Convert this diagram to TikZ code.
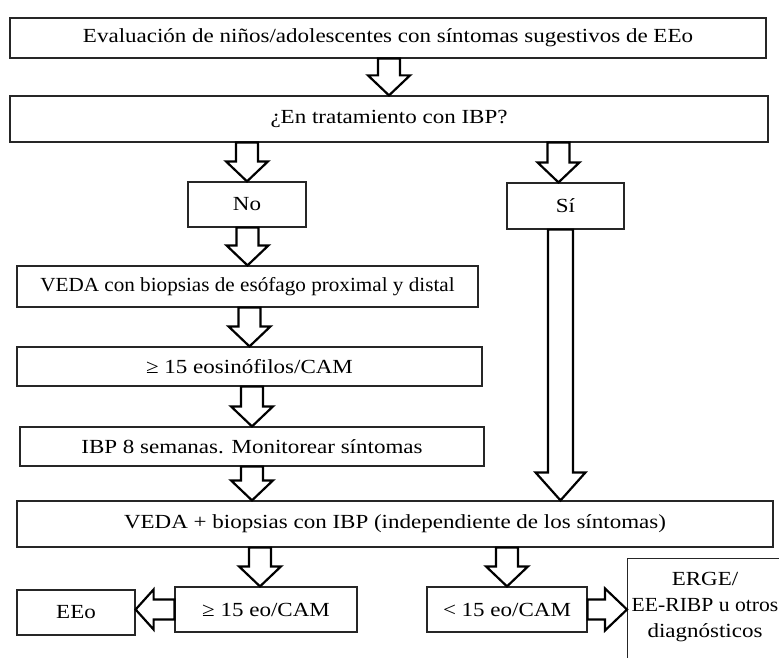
\documentclass[tikz,border=0pt]{standalone}
\usepackage{fontspec}
\setmainfont{Liberation Serif}[FakeStretch=1.15]
\usetikzlibrary{calc}

\newcommand{\downarr}[5]{%
  \draw[blockarr] let \p1=(#1), \p2=(#2) in
    (\x2-#3pt,\y1) -- (\x2-#3pt,\y2+#5pt) -- (\x2-#4pt,\y2+#5pt) -- (\x2,\y2)
    -- (\x2+#4pt,\y2+#5pt) -- (\x2+#3pt,\y2+#5pt) -- (\x2+#3pt,\y1) -- cycle;}
\newcommand{\leftarr}[5]{%
  \draw[blockarr] let \p1=(#1), \p2=(#2) in
    (\x1,\y1+#3pt) -- (\x2+#5pt,\y1+#3pt) -- (\x2+#5pt,\y1+#4pt) -- (\x2,\y1)
    -- (\x2+#5pt,\y1-#4pt) -- (\x2+#5pt,\y1-#3pt) -- (\x1,\y1-#3pt) -- cycle;}
\newcommand{\rightarr}[5]{%
  \draw[blockarr] let \p1=(#1), \p2=(#2) in
    (\x1,\y1+#3pt) -- (\x2-#5pt,\y1+#3pt) -- (\x2-#5pt,\y1+#4pt) -- (\x2,\y1)
    -- (\x2-#5pt,\y1-#4pt) -- (\x2-#5pt,\y1-#3pt) -- (\x1,\y1-#3pt) -- cycle;}

\begin{document}
\begin{tikzpicture}[x=1pt,y=-1pt,
    box/.style={draw=black!85,line width=1.2pt,fill=white,inner sep=0pt},
    blockarr/.style={draw=black,line width=2.2pt,fill=white,line join=miter},
    every node/.style={font=\fontsize{20}{26}\selectfont}]
    \useasboundingbox (0,0) rectangle (779,658);
    \clip (0,0) rectangle (779,658);
    \node[box,minimum width=756,minimum height=40] (b1) at (388,38) {Evaluación de niños/adolescentes con síntomas sugestivos de EEo};
    \node[box,minimum width=758,minimum height=46] (b2) at (389,119) {¿En tratamiento con IBP?};
    \node[box,minimum width=118,minimum height=45] (no) at (247,204.5) {No};
    \node[box,minimum width=117,minimum height=46] (si) at (565.5,206) {Sí};
    \node[box,minimum width=461,minimum height=41] (veda1) at (247.5,286.5) {\scalebox{0.92}[1]{VEDA con biopsias de esófago proximal y distal}};
    \node[box,minimum width=465,minimum height=39] (eos) at (249.5,366.5) {≥ 15 eosinófilos/CAM};
    \node[box,minimum width=464,minimum height=39] (ibp8) at (252,446.5) {IBP 8 semanas. Monitorear síntomas};
    \node[box,minimum width=756,minimum height=46] (veda2) at (395,524) {VEDA + biopsias con IBP (independiente de los síntomas)};
    \node[box,minimum width=182,minimum height=45] (eo15) at (266,609.5) {≥ 15 eo/CAM};
    \node[box,minimum width=118,minimum height=45] (eeo) at (76,612.5) {EEo};
    \node[box,minimum width=160,minimum height=45] (lt15) at (507,609.5) {< 15 eo/CAM};
    \node[box,minimum width=180,minimum height=130,anchor=north west] (erge) at (627,558) {};
    \node[align=center] (ergetxt) at (705,607) {ERGE/\\\scalebox{0.94}[1]{EE-RIBP u otros}\\diagnósticos};
    \coordinate (siax) at ([xshift=-5pt]si.south);
    \downarr{b1.south}{b2.north}{11}{21}{20}
    \downarr{b2.south}{no.north}{11}{21}{20}
    \downarr{b2.south}{[xshift=-7pt]si.north}{11}{21}{20}
    \downarr{no.south}{veda1.north}{11}{21}{20}
    \downarr{veda1.south}{eos.north}{11}{21}{20}
    \downarr{eos.south}{ibp8.north}{11}{21}{20}
    \downarr{ibp8.south}{ibp8.south |- veda2.north}{11}{21}{20}
    \downarr{siax}{siax |- veda2.north}{12.5}{25}{28}
    \downarr{veda2.south}{[xshift=-6pt]eo15.north}{11}{21}{20}
    \downarr{veda2.south}{lt15.north}{11}{21}{20}
    \leftarr{eo15.west}{eeo.east}{10}{20}{18}
    \rightarr{lt15.east}{erge.west |- lt15.east}{10}{21}{22}
\end{tikzpicture}
\end{document}
